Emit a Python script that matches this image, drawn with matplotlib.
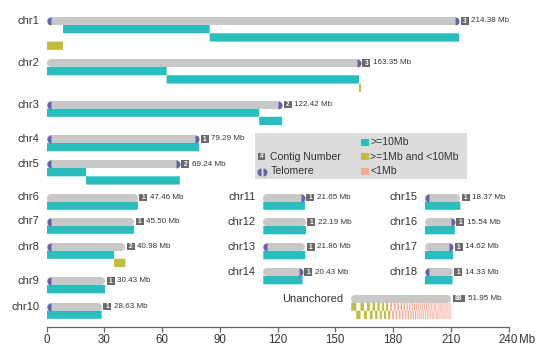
import matplotlib
matplotlib.use("Agg")
import matplotlib.pyplot as plt
from matplotlib.patches import Rectangle

plt.rcParams['font.family'] = ['Liberation Sans', 'DejaVu Sans']

# ---- data ------------------------------------------------------------------
names = ['chr1', 'chr2', 'chr3', 'chr4', 'chr5', 'chr6', 'chr7', 'chr8', 'chr9', 'chr10',
         'chr11', 'chr12', 'chr13', 'chr14', 'chr15', 'chr16', 'chr17', 'chr18', 'Unanchored']
lengths = [214.38, 163.35, 122.42, 79.29, 69.24, 47.46, 45.50, 40.98, 30.43, 28.63,
           21.65, 22.19, 21.86, 20.43, 18.37, 15.54, 14.62, 14.33, 51.95]
n_contigs = [3, 3, 2, 1, 2, 1, 1, 2, 1, 1, 1, 1, 1, 1, 1, 1, 1, 1, 88]
tel_left = [1, 0, 1, 1, 1, 0, 1, 1, 1, 1, 0, 0, 1, 0, 1, 0, 0, 1, 0]
tel_right = [1, 1, 1, 1, 1, 0, 0, 0, 0, 0, 1, 0, 0, 1, 0, 1, 1, 0, 0]

# contig sizes (Mb) in order along each chromosome
contig_sizes = [
    [8.6, 76.2, 129.58], [62.4, 99.95, 1.0], [110.5, 11.92], [79.29], [20.5, 48.74],
    [47.46], [45.50], [35.1, 5.88], [30.43], [28.63],
    [21.65], [22.19], [21.86], [20.43], [18.37], [15.54], [14.62], [14.33],
]
contig_rows = [
    [3, 1, 2], [1, 2, 3], [1, 2], [1], [1, 2], [1], [1], [1, 2], [1], [1],
    [1], [1], [1], [1], [1], [1], [1], [1],
]
unanchored_sizes = [
    2.6, 2.2, 1.8, 1.6, 1.5, 1.4, 1.3, 1.2, 1.2, 1.1, 1.1, 1.1, 1.1, 1.1,
    0.95, 0.92, 0.90, 0.88, 0.85, 0.82, 0.80, 0.78, 0.75, 0.72,
    0.70, 0.68, 0.66, 0.64, 0.62, 0.60, 0.58, 0.57, 0.56, 0.55,
    0.54, 0.53, 0.52, 0.51, 0.50, 0.49, 0.48, 0.47, 0.46, 0.45,
    0.44, 0.43, 0.42, 0.41, 0.40, 0.39, 0.38, 0.37, 0.36, 0.35,
    0.34, 0.33, 0.32, 0.31, 0.30, 0.30, 0.29, 0.29, 0.28, 0.28,
    0.27, 0.27, 0.26, 0.26, 0.25, 0.25, 0.24, 0.24, 0.23, 0.23,
    0.22, 0.22, 0.21, 0.21, 0.20, 0.20, 0.19, 0.19, 0.18, 0.18,
    0.17, 0.17, 0.16, 0.16,
]
ticks = [0, 30, 60, 90, 120, 150, 180, 210, 240]

# ---- layout ----------------------------------------------------------------
x_off = [0] * 10 + [112.6] * 4 + [196.6] * 4 + [158.3]
y_mid = [21, 63, 104.5, 139, 164, 197.5, 221.5, 246.5, 281, 306.5,
         197.5, 222, 247, 272, 197.5, 222, 247, 272, 298.5]

GRAY = '#c8c8c8'
TEAL = '#29bebe'
YEL = '#c0be3c'
SAL = '#f7a792'
PURP = '#6264ad'
BOX = '#6a6a6a'
TXT = '#333333'

W, H = 545, 355
AX_L, AX_R, AX_B = 46.5, 508.5, 327
PX = 240 / (AX_R - AX_L)      # Mb per pixel
BAR_H = 8.0
ROW_H = 8.3


def size_color(s):
    if s >= 10:
        return TEAL
    if s >= 1:
        return YEL
    return SAL


fig = plt.figure(figsize=(W / 100, H / 100), dpi=100)
ax = fig.add_axes([AX_L / W, (H - AX_B) / H, (AX_R - AX_L) / W, AX_B / H])
ax.set_xlim(0, 240)
ax.set_ylim(AX_B, 0)

r = BAR_H / 2 * PX
lw = BAR_H * 0.72

for i, name in enumerate(names):
    x0 = x_off[i]
    x1 = x0 + lengths[i]
    yc = y_mid[i]

    # contigs under the chromosome
    if name == 'Unanchored':
        sizes = unanchored_sizes
        rows = [1 + k % 2 for k in range(len(sizes))]
    else:
        sizes = contig_sizes[i]
        rows = contig_rows[i]
    pos = x0
    for s, rw in zip(sizes, rows):
        bars = ax.barh(yc + BAR_H / 2 + ROW_H * (rw - 0.5), s, left=pos, height=ROW_H,
                       color=size_color(s), linewidth=0)
        for b in bars:
            b.set_snap(False)
        pos += s

    # chromosome body
    ax.plot([x0 + r, x1 - r], [yc, yc], color=GRAY, lw=lw, solid_capstyle='round')
    if tel_left[i]:
        ax.plot(x0 + r, yc, marker='o', ms=lw, fillstyle='left', mfc=PURP,
                mfcalt='none', mew=0)
    if tel_right[i]:
        ax.plot(x1 - r, yc, marker='o', ms=lw, fillstyle='right', mfc=PURP,
                mfcalt='none', mew=0)

    # label, contig count box and length
    ax.text(x0 - 7.5 * PX, yc, name, ha='right', va='center', fontsize=8, color=TXT)
    bw = 12.5 if n_contigs[i] > 9 else 8
    bx = x1 + 1.5 * PX
    ax.add_patch(Rectangle((bx, yc - 3.7), bw * PX, 7.4, color=BOX, lw=0))
    ax.text(bx + bw * PX / 2, yc + 0.3, str(n_contigs[i]), ha='center', va='center',
            fontsize=4.8, color='white', fontweight='bold')
    ax.text(bx + (bw + 2.5) * PX, yc, f'{lengths[i]:.2f} Mb', ha='left', va='center',
            fontsize=5.8, color=TXT)

# ---- legend ----------------------------------------------------------------
def mx(px):
    return (px - AX_L) * PX


ax.add_patch(Rectangle((mx(255), 133), mx(467) - mx(255), 46, color='#dcdcdc', lw=0))
ax.add_patch(Rectangle((mx(258), 153), 7 * PX, 7, color=BOX, lw=0))
ax.text(mx(261.5), 156.8, '#', ha='center', va='center', fontsize=5, color='white',
        fontweight='bold')
ax.text(mx(270.5), 156.5, 'Contig Number', ha='left', va='center', fontsize=7.6, color=TXT)
ax.plot(mx(261), 171.5, marker='o', ms=lw, fillstyle='left', mfc=PURP, mfcalt='none', mew=0)
ax.plot(mx(262.5), 171.5, marker='o', ms=lw, fillstyle='right', mfc=PURP, mfcalt='none', mew=0)
ax.text(mx(270.5), 171.5, 'Telomere', ha='left', va='center', fontsize=7.6, color=TXT)
for yy, col, lab in [(142, TEAL, '>=10Mb'), (156.5, YEL, '>=1Mb and <10Mb'), (171.5, SAL, '<1Mb')]:
    ax.add_patch(Rectangle((mx(361), yy - 3.5), 7.5 * PX, 7, color=col, lw=0))
    ax.text(mx(370.5), yy, lab, ha='left', va='center', fontsize=7.6, color=TXT)

# ---- axes ------------------------------------------------------------------
for sp in ['left', 'top', 'right']:
    ax.spines[sp].set_visible(False)
ax.spines['bottom'].set_color('#666666')
ax.spines['bottom'].set_linewidth(0.9)
ax.set_yticks([])
ax.set_xticks(ticks)
ax.set_xticklabels([str(t) for t in ticks])
ax.tick_params(axis='x', length=3.5, width=0.9, color='#666666', labelsize=8.3,
               labelcolor=TXT, pad=1.5)
ax.annotate('Mb', xy=(240, 0), xycoords=('data', 'axes fraction'), xytext=(7.5, -5.0),
            textcoords='offset points', ha='left', va='top', fontsize=8.3, color=TXT)

fig.savefig('out.png', dpi=100)
